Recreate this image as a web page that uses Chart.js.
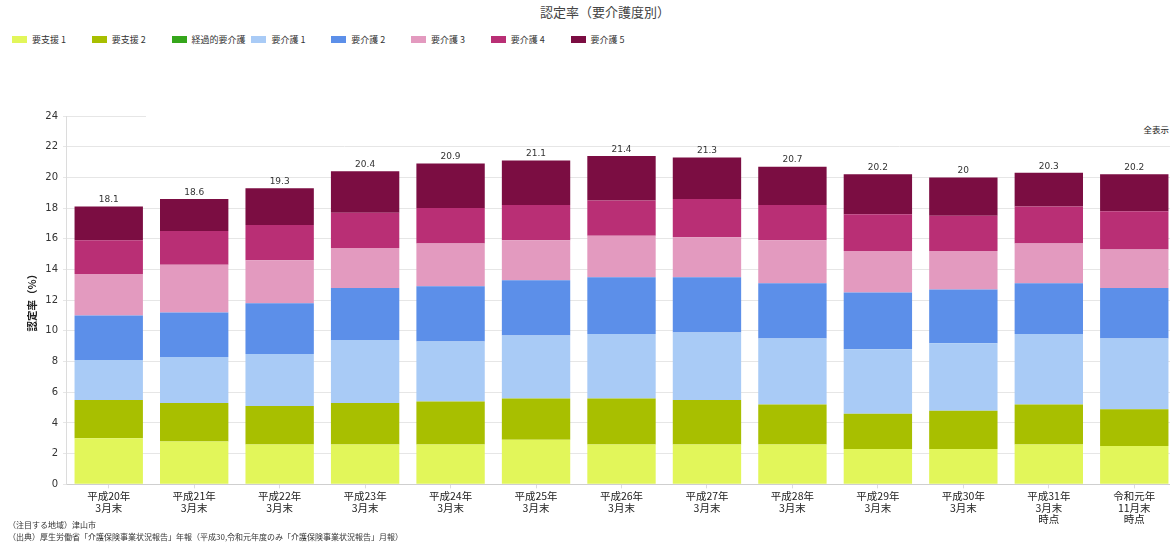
<!DOCTYPE html>
<html>
<head>
<meta charset="utf-8">
<title>認定率（要介護度別）</title>
<script src="https://cdn.jsdelivr.net/npm/chart.js"></script>
<style>
    html, body { margin: 0; padding: 0; background: #fff; overflow: hidden; }
    body { width: 1170px; height: 542px; position: relative; font-family: "Noto Sans CJK JP", "DejaVu Sans", sans-serif; color: #333; }
    #title { position: absolute; top: 2px; left: 0; width: 1210px; text-align: center; font-size: 13px; color: #444; }
    #legend { position: absolute; top: 33px; left: 12px; display: flex; }
    #legend .item { width: 79.8px; display: flex; align-items: center; font-size: 9px; color: #333; }
    #legend .box { width: 15px; height: 7px; margin-right: 5px; }
    #chartBox { position: absolute; left: 0; top: 100px; width: 1177px; height: 431px; }
    #toolbar { position: absolute; left: 146px; top: 112px; width: 1030px; height: 28px; background: #fff; }
    #toolbar span { position: absolute; right: 7px; top: 11px; font-size: 8.5px; color: #222; }
    .note { position: absolute; left: 8px; font-size: 8px; color: #333; }
</style>
</head>
<body>
<div id="title">認定率（要介護度別）</div>
<div id="legend"></div>
<div id="chartBox"><canvas id="chart"></canvas></div>
<div id="toolbar"><span>全表示</span></div>
<div class="note" style="top:519px">（注目する地域）津山市</div>
<div class="note" style="top:531px">（出典）厚生労働省「介護保険事業状況報告」年報（平成30,令和元年度のみ「介護保険事業状況報告」月報）</div>

<script>
    // 年度（x軸）
    const periods = [
        ['平成20年', '3月末'], ['平成21年', '3月末'], ['平成22年', '3月末'], ['平成23年', '3月末'],
        ['平成24年', '3月末'], ['平成25年', '3月末'], ['平成26年', '3月末'], ['平成27年', '3月末'],
        ['平成28年', '3月末'], ['平成29年', '3月末'], ['平成30年', '3月末'],
        ['平成31年', '3月末', '時点'], ['令和元年', '11月末', '時点']
    ];

    // 要介護度別の認定率（%）
    const shien1   = [3.0, 2.8, 2.6, 2.6, 2.6, 2.9, 2.6, 2.6, 2.6, 2.3, 2.3, 2.6, 2.5];
    const shien2   = [2.5, 2.5, 2.5, 2.7, 2.8, 2.7, 3.0, 2.9, 2.6, 2.3, 2.5, 2.6, 2.4];
    const keika    = [0, 0, 0, 0, 0, 0, 0, 0, 0, 0, 0, 0, 0];
    const kaigo1   = [2.6, 3.0, 3.4, 4.1, 3.9, 4.1, 4.2, 4.4, 4.3, 4.2, 4.4, 4.6, 4.6];
    const kaigo2   = [2.9, 2.9, 3.3, 3.4, 3.6, 3.6, 3.7, 3.6, 3.6, 3.7, 3.5, 3.3, 3.3];
    const kaigo3   = [2.7, 3.1, 2.8, 2.6, 2.8, 2.6, 2.7, 2.6, 2.8, 2.7, 2.5, 2.6, 2.5];
    const kaigo4   = [2.2, 2.2, 2.3, 2.3, 2.3, 2.3, 2.3, 2.5, 2.3, 2.4, 2.3, 2.4, 2.5];
    const kaigo5   = [2.2, 2.1, 2.4, 2.7, 2.9, 2.9, 2.9, 2.7, 2.5, 2.6, 2.5, 2.2, 2.4];

    const yTicks = [0, 2, 4, 6, 8, 10, 12, 14, 16, 18, 20, 22, 24];

    const series = [
        { label: '要支援 1', data: shien1, color: '#e2f65a' },
        { label: '要支援 2', data: shien2, color: '#a8bf00' },
        { label: '経過的要介護', data: keika, color: '#35a61b' },
        { label: '要介護 1', data: kaigo1, color: '#a9cbf6' },
        { label: '要介護 2', data: kaigo2, color: '#5c8fe9' },
        { label: '要介護 3', data: kaigo3, color: '#e39abf' },
        { label: '要介護 4', data: kaigo4, color: '#b92f75' },
        { label: '要介護 5', data: kaigo5, color: '#7b0d42' }
    ];

    // 凡例
    const legend = document.getElementById('legend');
    series.forEach(s => {
        const item = document.createElement('div');
        item.className = 'item';
        item.innerHTML = `<span class="box" style="background:${s.color}"></span>${s.label}`;
        legend.appendChild(item);
    });

    // 合計値を積み上げの上に表示
    const totalLabels = {
        id: 'totalLabels',
        afterDatasetsDraw(chart) {
            const ctx = chart.ctx;
            const last = chart.getDatasetMeta(chart.data.datasets.length - 1);
            ctx.save();
            ctx.font = '9px "DejaVu Sans", sans-serif';
            ctx.fillStyle = '#333';
            ctx.textAlign = 'center';
            ctx.textBaseline = 'bottom';
            periods.forEach((p, i) => {
                const total = chart.data.datasets.reduce((a, d) => a + d.data[i], 0);
                const bar = last.data[i];
                ctx.fillText(String(Math.round(total * 10) / 10), bar.x, bar.y - 2);
            });
            ctx.restore();
        }
    };

    const ctx = document.getElementById('chart').getContext('2d');
    const chart = new Chart(ctx, {
        type: 'bar',
        data: {
            labels: periods,
            datasets: series.map(s => ({
                label: s.label,
                data: s.data,
                backgroundColor: s.color,
                borderWidth: 0,
                categoryPercentage: 0.8,
                barPercentage: 1.0
            }))
        },
        options: {
            responsive: true,
            maintainAspectRatio: false,
            animation: false,
            layout: { padding: { top: 16, right: 0, bottom: 4, left: 0 } },
            plugins: {
                legend: { display: false },
                tooltip: { enabled: false }
            },
            scales: {
                x: {
                    stacked: true,
                    grid: {
                        offset: false,
                        drawOnChartArea: false,
                        tickLength: 4,
                        color: '#dcdcdc'
                    },
                    border: { color: '#cfcfcf' },
                    ticks: {
                        color: '#222',
                        padding: 2,
                        maxRotation: 0,
                        autoSkip: false,
                        font: { family: '"Noto Sans CJK JP", sans-serif', size: 10.5, lineHeight: 1.1 }
                    }
                },
                y: {
                    stacked: true,
                    min: 0,
                    max: 24,
                    afterFit(scale) { scale.width = 66; },
                    afterBuildTicks(scale) { scale.ticks = yTicks.map(v => ({ value: v })); },
                    grid: { color: '#e6e6e6', tickLength: 3 },
                    border: { color: '#dcdcdc' },
                    ticks: {
                        color: '#333',
                        padding: 5,
                        font: { family: '"DejaVu Sans", sans-serif', size: 10 }
                    },
                    title: {
                        display: true,
                        text: '認定率（%）',
                        color: '#222',
                        padding: { top: 26, bottom: 0 },
                        font: { family: '"Noto Sans CJK JP", sans-serif', size: 10.5, weight: 'bold' }
                    }
                }
            }
        },
        plugins: [totalLabels]
    });
</script>
</body>
</html>
